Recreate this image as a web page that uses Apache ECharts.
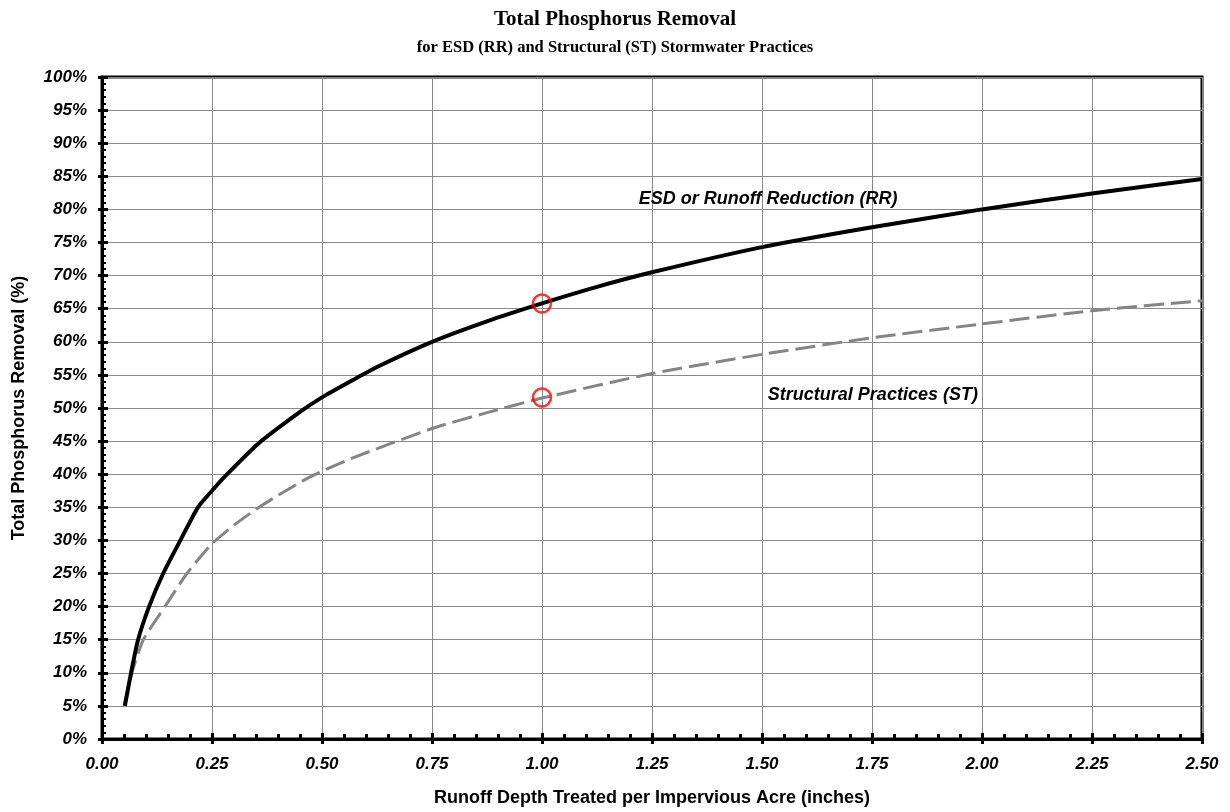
<!DOCTYPE html>
<html>
<head>
<meta charset="utf-8">
<script src="https://cdn.jsdelivr.net/npm/echarts@6/dist/echarts.min.js"></script>
<style>
  html, body { margin: 0; padding: 0; background: #fff; }
  #chart { width: 1230px; height: 812px; }
</style>
</head>
<body>
<div id="chart"></div>
<script>
// Data
const rrX = [0.052, 0.066, 0.082, 0.107, 0.139, 0.178, 0.218, 0.25, 0.28, 0.355, 0.45, 0.50, 0.564, 0.625, 0.75, 0.875, 1.00, 1.125, 1.25, 1.50, 1.75, 2.00, 2.25, 2.50];
const rrY = [5, 10, 15, 20, 25, 30, 35, 37.5, 39.7, 44.6, 49.4, 51.6, 54.0, 56.2, 60, 63.1, 65.8, 68.3, 70.5, 74.3, 77.3, 80, 82.4, 84.6];

const stX = [0.05, 0.068, 0.094, 0.143, 0.193, 0.25, 0.30, 0.35, 0.40, 0.473, 0.564, 0.75, 0.875, 1.00, 1.25, 1.50, 1.75, 2.00, 2.25, 2.50];
const stY = [5, 10, 15, 20, 25, 29.5, 32.3, 34.7, 36.8, 39.6, 42.3, 46.9, 49.3, 51.5, 55.2, 58.1, 60.6, 62.7, 64.7, 66.2];

const markX = [1.0, 1.0];
const markY = [65.8, 51.6];

// label anchors (data space)
const rrLabel = { text: 'ESD or Runoff Reduction (RR)', x: 1.514, y: 81.6 };
const stLabel = { text: 'Structural Practices (ST)', x: 1.752, y: 52.0 };

const zip = (xs, ys) => xs.map((x, i) => [x, ys[i]]);

const tickFont = {
  color: '#000',
  fontFamily: 'Liberation Sans, Arial',
  fontSize: 17,
  fontWeight: 'bold',
  fontStyle: 'italic'
};
const nameFont = { fontFamily: 'Liberation Sans, Arial', fontSize: 18, fontWeight: 'bold', color: '#000' };

const chart = echarts.init(document.getElementById('chart'), null, { renderer: 'canvas' });

chart.setOption({
  animation: false,
  title: {
    text: 'Total Phosphorus Removal',
    subtext: 'for ESD (RR) and Structural (ST) Stormwater Practices',
    left: 'center',
    top: 4,
    itemGap: 9,
    textStyle: { fontFamily: 'Liberation Serif, Times New Roman', fontSize: 21, fontWeight: 'bold', color: '#000' },
    subtextStyle: { fontFamily: 'Liberation Serif, Times New Roman', fontSize: 16.5, fontWeight: 'bold', color: '#000' }
  },
  grid: {
    left: 102, right: 28, top: 77, bottom: 70,
    show: true,
    borderColor: '#000',
    borderWidth: 3
  },
  xAxis: [
    {
      type: 'value', min: 0, max: 2.5, interval: 0.25,
      position: 'bottom',
      name: 'Runoff Depth Treated per Impervious Acre (inches)',
      nameLocation: 'middle',
      nameGap: 50,
      nameTextStyle: nameFont,
      axisLine: { show: true, lineStyle: { color: '#000', width: 3 } },
      axisTick: { show: true, inside: true, length: 6, lineStyle: { color: '#000', width: 3 } },
      minorTick: { show: true, splitNumber: 5, length: 5, lineStyle: { color: '#000', width: 3 } },
      splitLine: { show: true, lineStyle: { color: '#8a8a8a', width: 1 } },
      axisLabel: { ...tickFont, margin: 17, formatter: v => v.toFixed(2) }
    },
    {
      type: 'value', min: 0, max: 2.5, interval: 0.25,
      position: 'bottom',
      axisLine: { show: false },
      axisTick: { show: true, inside: false, length: 5, lineStyle: { color: '#000', width: 3 } },
      splitLine: { show: false },
      axisLabel: { show: false }
    }
  ],
  yAxis: [
    {
      type: 'value', min: 0, max: 100, interval: 5,
      position: 'left',
      name: 'Total Phosphorus Removal (%)',
      nameLocation: 'middle',
      nameGap: 74,
      nameTextStyle: nameFont,
      axisLine: { show: true, lineStyle: { color: '#000', width: 3 } },
      axisTick: { show: true, inside: true, length: 6, lineStyle: { color: '#000', width: 3 } },
      minorTick: { show: true, splitNumber: 5, length: 4, lineStyle: { color: '#000', width: 2 } },
      splitLine: { show: true, lineStyle: { color: '#8a8a8a', width: 1 } },
      axisLabel: { ...tickFont, margin: 15, formatter: v => v + '%' }
    },
    {
      type: 'value', min: 0, max: 100, interval: 5,
      position: 'left',
      axisLine: { show: false },
      axisTick: { show: true, inside: false, length: 4, lineStyle: { color: '#000', width: 3 } },
      splitLine: { show: false },
      axisLabel: { show: false }
    }
  ],
  series: [
    {
      name: 'ST',
      type: 'line',
      data: zip(stX, stY),
      smooth: 0.2,
      showSymbol: false,
      lineStyle: { color: '#858585', width: 3, type: [20, 7] },
      markPoint: {
        symbol: 'circle', symbolSize: 0,
        label: { show: true, ...tickFont, fontSize: 18, formatter: stLabel.text },
        data: [{ coord: [stLabel.x, stLabel.y] }]
      },
      z: 2
    },
    {
      name: 'RR',
      type: 'line',
      data: zip(rrX, rrY),
      smooth: 0.2,
      showSymbol: false,
      lineStyle: { color: '#000', width: 4 },
      markPoint: {
        symbol: 'circle', symbolSize: 0,
        label: { show: true, ...tickFont, fontSize: 18, formatter: rrLabel.text },
        data: [{ coord: [rrLabel.x, rrLabel.y] }]
      },
      z: 3
    },
    {
      name: 'marks',
      type: 'scatter',
      data: zip(markX, markY),
      symbol: 'circle',
      symbolSize: 18,
      itemStyle: { color: 'rgba(0,0,0,0)', borderColor: '#ff0000', borderWidth: 2.5 },
      z: 4
    }
  ]
});
</script>
</body>
</html>
